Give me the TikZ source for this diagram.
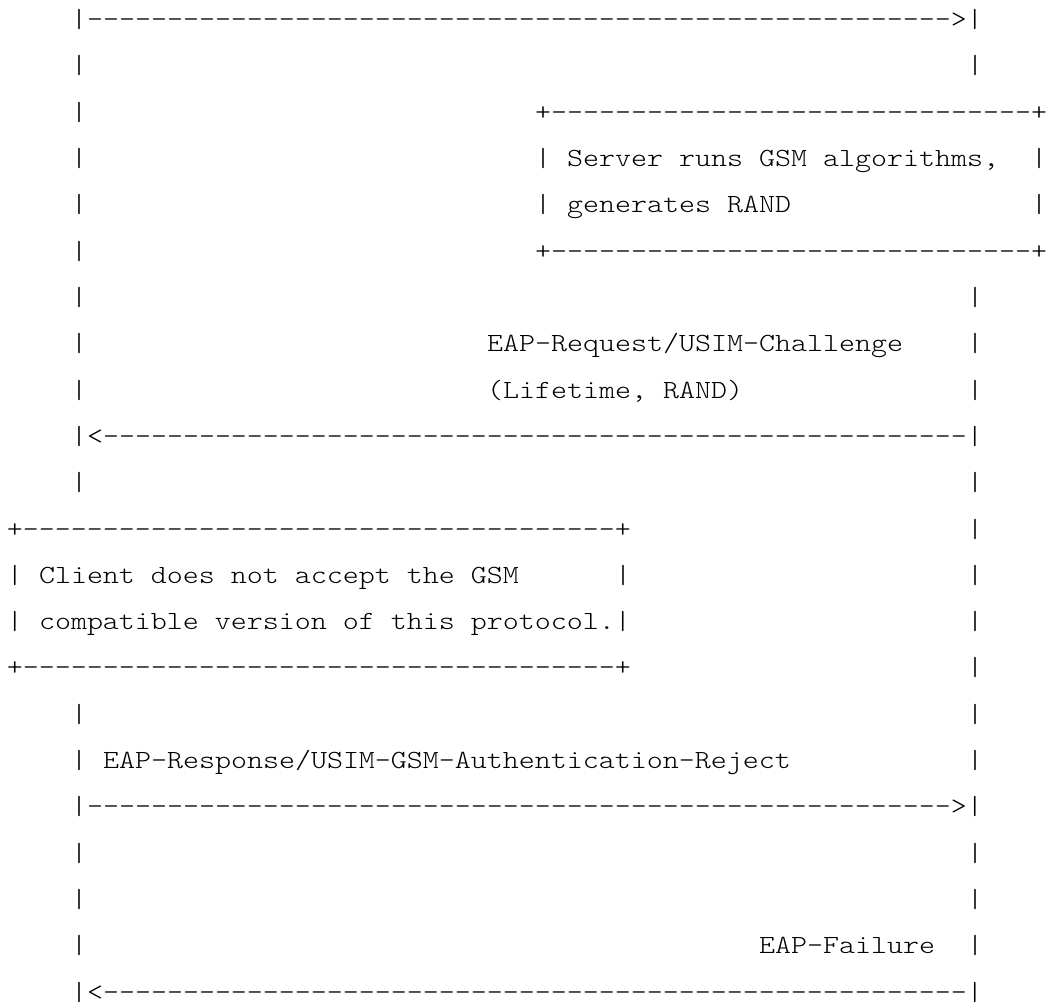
\documentclass[tikz,border=0pt]{standalone}
\usepackage{fontspec}
\newfontfamily\courlike{Latin Modern Mono Light}
\ExplSyntaxOn
\NewDocumentCommand\rep{mm}{\prg_replicate:nn{#1}{#2}}
\ExplSyntaxOff
\tikzset{
  txt/.style={anchor=base west, inner sep=0pt, outer sep=0pt,
    font=\courlike\fontsize{26.2}{30}\selectfont, text=black},
}
\newcommand\T[4]{\node[txt] (#1) at (#2,#3) {\scalebox{1.1632}[1]{#4}};}
\begin{document}
\begin{tikzpicture}
\useasboundingbox (0,0) rectangle (1048pt,-1003pt);
\begin{scope}[x=16pt, y=-46.3pt, shift={(7pt,-27.7pt)}]
% row 0: client -> server
\T{r0}{4}{0}{|\rep{54}{-}>|}
% row 1
\T{r1a}{4}{1}{|}\T{r1b}{60}{1}{|}
% server box
\T{r2a}{4}{2}{|}\T{sbtop}{33}{2}{+\rep{30}{-}+}
\T{r3a}{4}{3}{|}\T{sbl1}{33}{3}{|}\T{stext1}{35}{3}{Server runs GSM algorithms,}\T{sbr1}{64}{3}{|}
\T{r4a}{4}{4}{|}\T{sbl2}{33}{4}{|}\T{stext2}{35}{4}{generates RAND}\T{sbr2}{64}{4}{|}
\T{r5a}{4}{5}{|}\T{sbbot}{33}{5}{+\rep{30}{-}+}
% row 6
\T{r6a}{4}{6}{|}\T{r6b}{60}{6}{|}
% challenge
\T{r7a}{4}{7}{|}\T{req1}{30}{7}{EAP-Request/USIM-Challenge}\T{r7b}{60}{7}{|}
\T{r8a}{4}{8}{|}\T{req2}{30}{8}{(Lifetime, RAND)}\T{r8b}{60}{8}{|}
\T{r9}{4}{9}{|<\rep{54}{-}|}
\T{r10a}{4}{10}{|}\T{r10b}{60}{10}{|}
% client box
\T{cbtop}{0}{11}{+\rep{37}{-}+}\T{r11b}{60}{11}{|}
\T{cbl1}{0}{12}{|}\T{ctext1}{2}{12}{Client does not accept the GSM}\T{cbr1}{38}{12}{|}\T{r12b}{60}{12}{|}
\T{cbl2}{0}{13}{|}\T{ctext2}{2}{13}{compatible version of this protocol.|}\T{r13b}{60}{13}{|}
\T{cbbot}{0}{14}{+\rep{37}{-}+}\T{r14b}{60}{14}{|}
\T{r15a}{4}{15}{|}\T{r15b}{60}{15}{|}
% reject
\T{r16a}{4}{16}{|}\T{resp}{6}{16}{EAP-Response/USIM-GSM-Authentication-Reject}\T{r16b}{60}{16}{|}
\T{r17}{4}{17}{|\rep{54}{-}>|}
\T{r18a}{4}{18}{|}\T{r18b}{60}{18}{|}
\T{r19a}{4}{19}{|}\T{r19b}{60}{19}{|}
% failure
\T{r20a}{4}{20}{|}\T{fail}{47}{20}{EAP-Failure}\T{r20b}{60}{20}{|}
\T{r21}{4}{21}{|<\rep{54}{-}|}
\end{scope}
\end{tikzpicture}
\end{document}
